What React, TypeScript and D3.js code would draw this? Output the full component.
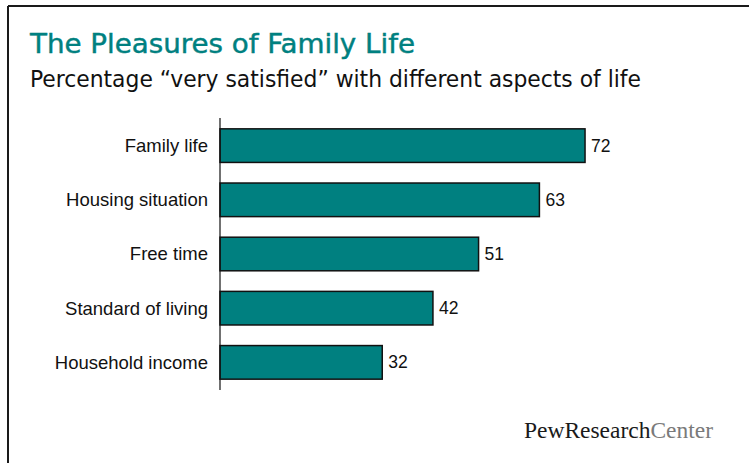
import React from "react";
import * as d3 from "d3";

const categories = ["Family life", "Housing situation", "Free time", "Standard of living", "Household income"];
const values = [72, 63, 51, 42, 32];
const title = "The Pleasures of Family Life";
const subtitle = "Percentage \u201cvery satisfied\u201d with different aspects of life";

const W = 749;
const H = 463;
const TEAL = "#008080";

export default function App() {
  const x = d3.scaleLinear().domain([0, 100]).range([220, 727]);
  const y = d3.scaleBand<string>().domain(categories).range([118, 390]).paddingInner(0.38).paddingOuter(0.2);
  const bw = y.bandwidth();
  return (
    <svg width={W} height={H} style={{ position: "absolute", left: 0, top: 0, background: "#fff" }}>
      <rect x={0} y={0} width={W} height={H} fill="#fff" />
      <line x1={8} y1={6} x2={W} y2={6} stroke="#1a1a1a" strokeWidth={2} />
      <line x1={8} y1={6} x2={8} y2={H} stroke="#1a1a1a" strokeWidth={2} />
      <text x={30} y={53} fill={TEAL} stroke={TEAL} strokeWidth={0.4} fontFamily="'DejaVu Sans Condensed', 'DejaVu Sans', sans-serif" fontSize={26}
        textLength={385} lengthAdjust="spacingAndGlyphs">{title}</text>
      <text x={30} y={87} fill="#111" fontFamily="'DejaVu Sans Condensed', 'DejaVu Sans', sans-serif" fontSize={22.5}
        textLength={611} lengthAdjust="spacingAndGlyphs">{subtitle}</text>
      {categories.map((c, i) => (
        <g key={c}>
          <rect x={x(0)} y={y(c)!} width={x(values[i]) - x(0)} height={bw} fill={TEAL} stroke="#111" strokeWidth={1.5} />
          <text x={208} y={y(c)! + bw / 2} dy="0.35em" textAnchor="end" fontFamily="'Liberation Sans', Arial, sans-serif" fontSize={18.5} fill="#111">{c}</text>
          <text x={x(values[i]) + 6} y={y(c)! + bw / 2} dy="0.35em" fontFamily="'Liberation Sans', Arial, sans-serif" fontSize={17.5} fill="#111">{values[i]}</text>
        </g>
      ))}
      <line x1={x(0)} y1={118} x2={x(0)} y2={390} stroke="#111" strokeWidth={1.2} />
      <text x={524} y={438} fontFamily="'Liberation Serif', 'Times New Roman', serif" fontSize={23} textLength={189} lengthAdjust="spacingAndGlyphs">
        <tspan fill="#1a1a1a">PewResearch</tspan><tspan fill="#7a7a7a">Center</tspan>
      </text>
    </svg>
  );
}
